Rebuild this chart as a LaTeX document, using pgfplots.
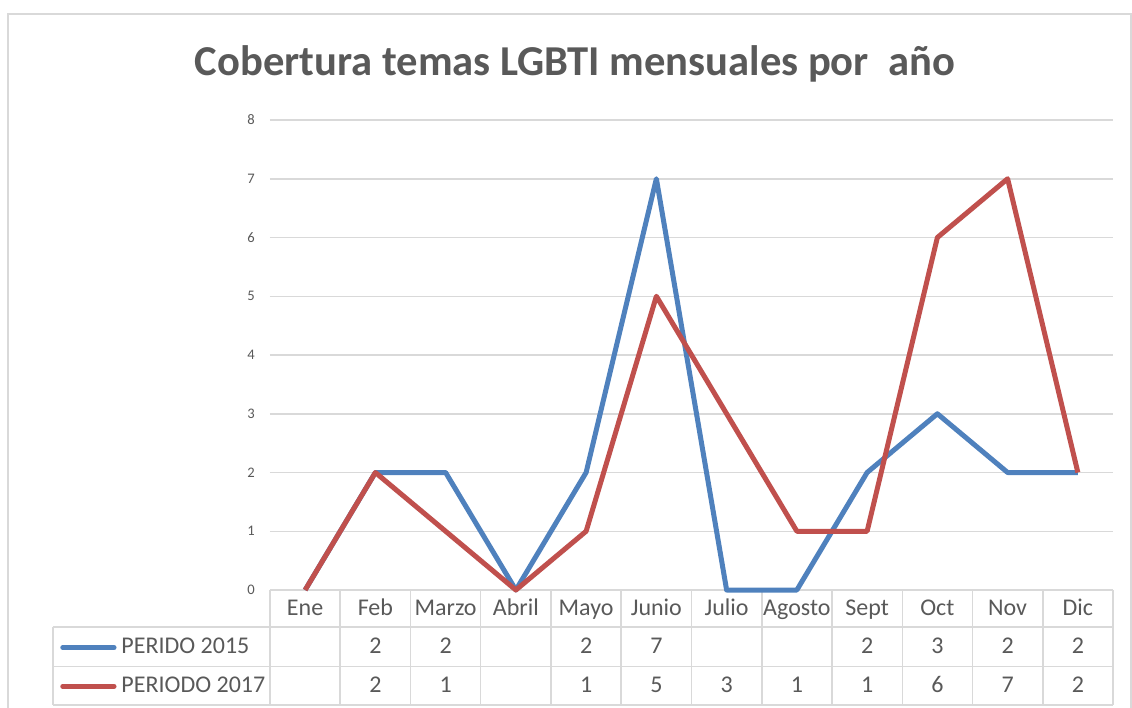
\documentclass[border=0pt]{standalone}
\usepackage{pgfplots}
\pgfplotsset{compat=1.18}
\usepackage{fontspec}
\setmainfont{Carlito}
\definecolor{txt}{HTML}{595959}
\definecolor{grd}{HTML}{D9D9D9}
\definecolor{bl}{HTML}{4F81BD}
\definecolor{rd}{HTML}{C0504D}
\begin{document}
\begin{tikzpicture}[x=1pt,y=1pt]
\useasboundingbox (0,0) rectangle (566,354);
\begin{scope}
\clip (0,0) rectangle (566,354);
\draw[grd,line width=0.75pt] (4,-5) -- (4,347) -- (565.6,347) -- (565.6,-5);
\end{scope}
\node[font=\fontsize{21.3}{25}\selectfont\bfseries, text=txt] at (287.5,322) {Cobertura temas LGBTI mensuales por\ \ año};
\begin{axis}[at={(135pt,59pt)}, anchor=south west, scale only axis,
  width=421.5pt, height=235pt, xmin=-0.5, xmax=11.5, ymin=0, ymax=8,
  ytick={0,...,8}, xtick=\empty, ymajorgrids,
  grid style={grd, line width=0.75pt}, axis line style={draw=none},
  major tick length=0pt,
  yticklabel style={anchor=center, xshift=-9.5pt, font=\fontsize{7.3}{8}\selectfont, text=txt},
  clip=false, /pgf/number format/assume math mode=true]
% table grid
\pgfplotsinvokeforeach{-0.5,0.5,1.5,2.5,3.5,4.5,5.5,6.5,7.5,8.5,9.5,10.5,11.5}{
  \draw[grd,line width=0.75pt] (axis cs:#1,0) -- (axis cs:#1,-1.96);
}
\draw[grd,line width=0.75pt] (axis cs:-3.59,-0.63) -- (axis cs:11.5,-0.63);
\draw[grd,line width=0.75pt] (axis cs:-3.59,-1.30) -- (axis cs:11.5,-1.30);
\draw[grd,line width=0.75pt] (axis cs:-3.59,-1.96) -- (axis cs:11.5,-1.96);
\draw[grd,line width=0.75pt] (axis cs:-3.59,-0.63) -- (axis cs:-3.59,-1.96);
% data
\addplot[bl, line width=2.5pt, line join=round, mark=none] coordinates {
(0,0) (1,2) (2,2) (3,0) (4,2) (5,7) (6,0) (7,0) (8,2) (9,3) (10,2) (11,2)};
\addplot[rd, line width=2.5pt, line join=round, mark=none] coordinates {
(0,0) (1,2) (2,1) (3,0) (4,1) (5,5) (6,3) (7,1) (8,1) (9,6) (10,7) (11,2)};
% header
\begin{scope}[every node/.style={font=\fontsize{12}{14}\selectfont, text=txt, inner sep=0pt, text height=0.64em, text depth=0pt}]
\node at (axis cs:0,-0.33) {Ene};
\node at (axis cs:1,-0.33) {Feb};
\node at (axis cs:2,-0.33) {Marzo};
\node at (axis cs:3,-0.33) {Abril};
\node at (axis cs:4,-0.33) {Mayo};
\node at (axis cs:5,-0.33) {Junio};
\node at (axis cs:6,-0.33) {Julio};
\node at (axis cs:7,-0.33) {Agosto};
\node at (axis cs:8,-0.33) {Sept};
\node at (axis cs:9,-0.33) {Oct};
\node at (axis cs:10,-0.33) {Nov};
\node at (axis cs:11,-0.33) {Dic};
% row 2015
\node at (axis cs:1,-0.98) {2};
\node at (axis cs:2,-0.98) {2};
\node at (axis cs:4,-0.98) {2};
\node at (axis cs:5,-0.98) {7};
\node at (axis cs:8,-0.98) {2};
\node at (axis cs:9,-0.98) {3};
\node at (axis cs:10,-0.98) {2};
\node at (axis cs:11,-0.98) {2};
% row 2017
\node at (axis cs:1,-1.64) {2};
\node at (axis cs:2,-1.64) {1};
\node at (axis cs:4,-1.64) {1};
\node at (axis cs:5,-1.64) {5};
\node at (axis cs:6,-1.64) {3};
\node at (axis cs:7,-1.64) {1};
\node at (axis cs:8,-1.64) {1};
\node at (axis cs:9,-1.64) {6};
\node at (axis cs:10,-1.64) {7};
\node at (axis cs:11,-1.64) {2};
% legend
\node[anchor=west] at (axis cs:-2.62,-0.98) {PERIDO 2015};
\node[anchor=west] at (axis cs:-2.62,-1.64) {PERIODO 2017};
\end{scope}
\draw[bl, line width=2.5pt, line cap=round] (axis cs:-3.45,-0.98) -- (axis cs:-2.72,-0.98);
\draw[rd, line width=2.5pt, line cap=round] (axis cs:-3.45,-1.64) -- (axis cs:-2.72,-1.64);
\end{axis}
\end{tikzpicture}
\end{document}
